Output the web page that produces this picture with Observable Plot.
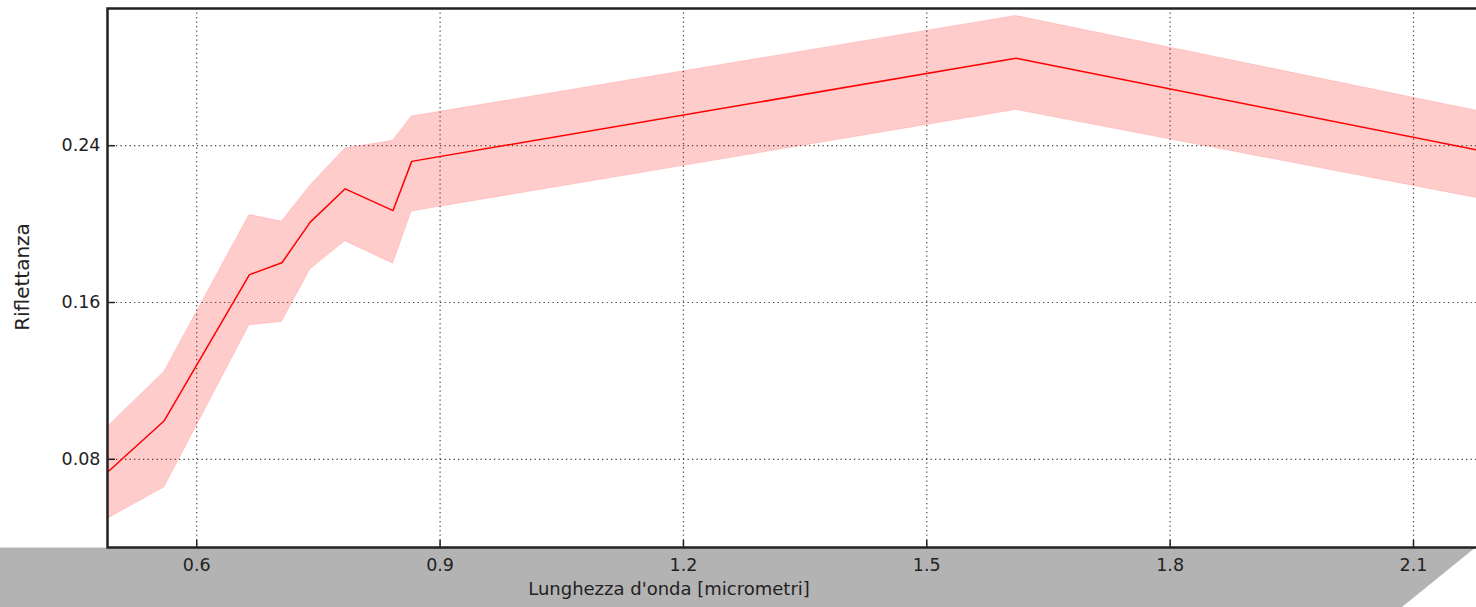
<!DOCTYPE html>
<html>
<head>
<meta charset="utf-8">
<script src="https://cdn.jsdelivr.net/npm/d3@7"></script>
<script src="https://cdn.jsdelivr.net/npm/@observablehq/plot@0.6"></script>
<style>
  html, body { margin: 0; padding: 0; background: white; overflow: hidden; width: 1476px; height: 607px; }
  #wrap { position: relative; width: 1476px; height: 607px; overflow: hidden; }
  #band { position: absolute; left: 0; top: 547px; width: 1476px; height: 60px; background: #b3b3b3;
          border-top: 1px solid #dcdcdc; box-sizing: border-box;
          clip-path: polygon(0 0, 100% 0, calc(100% - 74px) 100%, 0 100%); }
  #chart { position: absolute; left: 0; top: 0; }
</style>
</head>
<body>
<div id="wrap"><div id="band"></div><div id="chart"></div></div>
<script>
// Sentinel-2 band centre wavelengths (micrometres)
const wavelengths = [0.49, 0.56, 0.665, 0.705, 0.74, 0.783, 0.842, 0.865, 1.61, 2.19];
const meanRefl    = [0.0734, 0.0997, 0.1742, 0.1803, 0.2010, 0.2180, 0.2069, 0.2320, 0.2846, 0.2369];
const upperRefl   = [0.0965, 0.1246, 0.2047, 0.2013, 0.2196, 0.2386, 0.2425, 0.2549, 0.3062, 0.2568];
const lowerRefl   = [0.0496, 0.0656, 0.1484, 0.1501, 0.1769, 0.1913, 0.1798, 0.2064, 0.2582, 0.2124];
const xTicks = [0.6, 0.9, 1.2, 1.5, 1.8, 2.1];
const yTicks = [0.08, 0.16, 0.24];
const xLabel = "Lunghezza d'onda [micrometri]";
const yLabel = "Riflettanza";

const data = wavelengths.map((w, i) => ({w, mean: meanRefl[i], hi: upperRefl[i], lo: lowerRefl[i]}));

const font = "DejaVu Sans, sans-serif";
const chart = Plot.plot({
  width: 1486,
  height: 607,
  marginLeft: 107,
  marginRight: 0,
  marginTop: 8,
  marginBottom: 60,
  style: {background: "transparent", maxWidth: "none", fontFamily: font, fontSize: "17px", color: "#222", overflow: "visible"},
  x: {domain: [0.49, 2.19]},
  y: {domain: [0.035, 0.31]},
  marks: [
    Plot.gridX(xTicks, {stroke: "#444", strokeOpacity: 1, strokeDasharray: "1.3,3.2", strokeWidth: 1.2}),
    Plot.gridY(yTicks, {stroke: "#444", strokeOpacity: 1, strokeDasharray: "1.3,3.2", strokeWidth: 1.2}),
    Plot.areaY(data, {x: "w", y1: "lo", y2: "hi", fill: "red", fillOpacity: 0.2, stroke: "red", strokeOpacity: 0.12, strokeWidth: 1}),
    Plot.lineY(data, {x: "w", y: "mean", stroke: "red", strokeWidth: 1.5}),
    Plot.frame({stroke: "#222", strokeWidth: 2.5}),
    Plot.axisX(xTicks, {tickSize: -7, tickPadding: 18, tickFormat: d => String(d), fontSize: 17.5, stroke: "#222", strokeWidth: 1.5, label: null}),
    Plot.axisY(yTicks, {tickSize: -8, tickPadding: 15, tickFormat: d => d.toFixed(2), fontSize: 17.5, stroke: "#222", strokeWidth: 1.5, label: null}),
    Plot.text([xLabel], {frameAnchor: "bottom", dx: -128, dy: 47, fontSize: 18, fill: "#222"}),
    Plot.text([yLabel], {frameAnchor: "left", textAnchor: "middle", dx: -85, dy: -1, rotate: -90, fontSize: 20, fill: "#222"})
  ]
});
document.getElementById("chart").appendChild(chart);
</script>
</body>
</html>
